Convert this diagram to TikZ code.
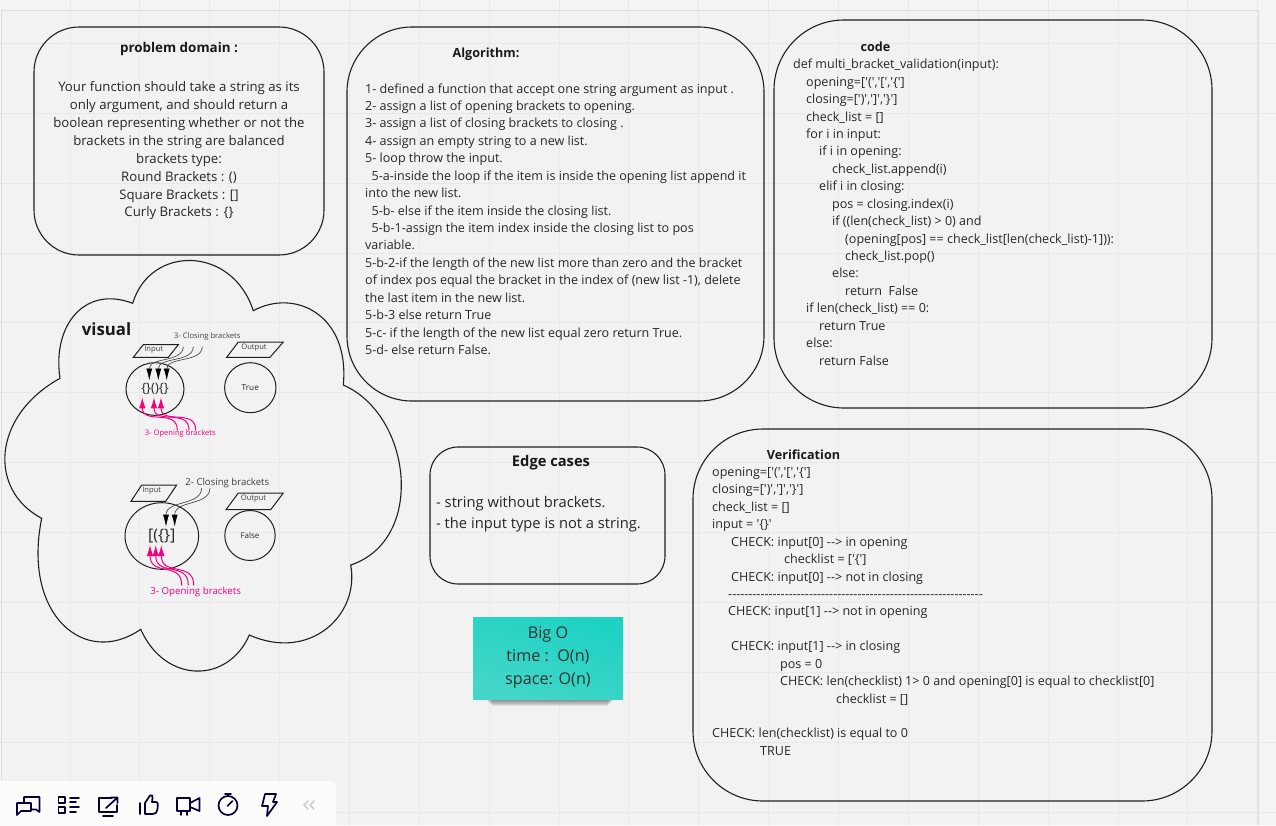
\documentclass[tikz,border=0pt]{standalone}
\usepackage{fontspec}
\setmainfont[Ligatures=TeXOff]{Open Sans}
\usetikzlibrary{arrows.meta,shapes.geometric}
\definecolor{outercol}{HTML}{F4F4F4}
\definecolor{boardbg}{HTML}{F2F2F2}
\definecolor{gridcol}{HTML}{E8E8E8}
\definecolor{inkcol}{HTML}{1F1F1F}
\definecolor{pinkcol}{HTML}{F5007F}
\definecolor{navycol}{HTML}{050038}
\definecolor{stickya}{HTML}{1DD2C2}
\definecolor{stickyb}{HTML}{44D6C9}
\tikzset{
	boxnode/.style={draw=inkcol, line width=1.1pt, inner sep=0pt},
	textnode/.style={anchor=north west, align=left, inner sep=0pt, text=black!85, font=\fontsize{12.55}{17.43}\selectfont},
	titlenode/.style={inner sep=0pt, text=black!90, font=\fontsize{12.6}{15}\selectfont\bfseries},
	tinynode/.style={inner sep=0pt, text=black!75, font=\fontsize{7.6}{9}\selectfont},
	ringnode/.style={draw=inkcol, line width=1pt, ellipse, inner sep=0pt},
	shapeline/.style={draw=inkcol, line width=1pt},
	closearrow/.style={draw=black!70, line width=0.7pt, -{Latex[length=12pt,width=6pt,black]}},
	openarrow/.style={draw=pinkcol, line width=1pt, -{Latex[length=11pt,width=6.5pt,pinkcol]}},
	iconline/.style={draw=navycol, line width=1.7pt, line join=round},
}
\begin{document}
\begin{tikzpicture}[x=1pt, y=-1pt, line cap=round]
	\useasboundingbox (0,0) rectangle (1276,825);
	% Board
	\fill[outercol] (0,0) rectangle (1276,825);
	\fill[boardbg] (2,11) rectangle (1258,825);
	\foreach \i in {1,...,18}
	{
		\draw[gridcol, line width=0.7pt] (69.87*\i,0) -- (69.87*\i,825);
	}
	\foreach \i in {0,...,11}
	{
		\draw[gridcol, line width=0.7pt] (0,43.3+69.87*\i) -- (1276,43.3+69.87*\i);
	}
	\draw[black!13, line width=1.5pt, line cap=butt] (1.5,825) -- (1.5,10.5) -- (1258.5,10.5) -- (1258.5,825);

	% Boxes
	\node[boxnode, rounded corners=45pt, minimum width=290pt, minimum height=228pt] (problembox) at (179,141) {};
	\node[boxnode, rounded corners=65pt, minimum width=417pt, minimum height=374pt] (algobox) at (555.5,214) {};
	\node[boxnode, rounded corners=70pt, minimum width=438pt, minimum height=388pt] (codebox) at (993,214) {};
	\node[boxnode, rounded corners=28pt, minimum width=235pt, minimum height=137pt] (edgebox) at (547.5,515.5) {};
	\node[boxnode, rounded corners=70pt, minimum width=519pt, minimum height=372pt] (verifybox) at (952.5,615) {};

	% Cloud
	\draw[draw=inkcol, line width=1.1pt] (60,378.3)
		.. controls (52,325) and (85,285) .. (132.7,303.3)
		.. controls (150,245) and (232,245) .. (253.3,310.7)
		.. controls (295,288) and (350,315) .. (343.3,385)
		.. controls (412,415) and (426,540) .. (350.7,565)
		.. controls (360,615) and (310,662) .. (249.3,635)
		.. controls (228,684) and (165,684) .. (140.7,629.3)
		.. controls (85,668) and (22,615) .. (41.7,518.3)
		.. controls (-12,490) and (-8,416) .. cycle;

	% Problem domain
	\node[titlenode, font=\fontsize{13.4}{16}\selectfont\bfseries] (problemtitle) at (179,49.5) {problem domain :};
	\node[textnode, anchor=north, align=center, font=\fontsize{13.2}{17.95}\selectfont] (problemtext) at (179,81)
		{Your function should take a string as its\\only argument, and should return a\\boolean representing whether or not the\\brackets in the string are balanced\\brackets type:\\Round Brackets : ()\\Square Brackets : []\\Curly Brackets : \{\}};

	% Algorithm
	\node[titlenode] (algotitle) at (486,54.5) {Algorithm:};
	\node[textnode] (algotext) at (365,83.3)
		{1- defined a function that accept one string argument as input .\\
		2- assign a list of opening brackets to opening.\\
		3- assign a list of closing brackets to closing .\\
		4- assign an empty string to a new list.\\
		5- loop throw the input.\\
		\hspace*{6.5pt}5-a-inside the loop if the item is inside the opening list append it\\
		into the new list.\\
		\hspace*{6.5pt}5-b- else if the item inside the closing list.\\
		\hspace*{6.5pt}5-b-1-assign the item index inside the closing list to pos\\
		variable.\\
		5-b-2-if the length of the new list more than zero and the bracket\\
		of index pos equal the bracket in the index of (new list -1), delete\\
		the last item in the new list.\\
		5-b-3 else return True\\
		5-c- if the length of the new list equal zero return True.\\
		5-d- else return False.};

	% Code
	\node[titlenode] (codetitle) at (875.5,47) {code};
	\node[textnode] (codetext) at (793,59)
		{def multi\_bracket\_validation(input):\\
		\hspace*{13pt}opening=['(','[','\{']\\
		\hspace*{13pt}closing=[')',']','\}']\\
		\hspace*{13pt}check\_list = []\\
		\hspace*{13pt}for i in input:\\
		\hspace*{26pt}if i in opening:\\
		\hspace*{39pt}check\_list.append(i)\\
		\hspace*{26pt}elif i in closing:\\
		\hspace*{39pt}pos = closing.index(i)\\
		\hspace*{39pt}if ((len(check\_list) > 0) and\\
		\hspace*{52pt}(opening[pos] == check\_list[len(check\_list)-1])):\\
		\hspace*{52pt}check\_list.pop()\\
		\hspace*{39pt}else:\\
		\hspace*{52pt}return\ \ False\\
		\hspace*{13pt}if len(check\_list) == 0:\\
		\hspace*{26pt}return True\\
		\hspace*{13pt}else:\\
		\hspace*{26pt}return False};

	% Edge cases
	\node[titlenode, font=\fontsize{14.7}{17}\selectfont\bfseries] (edgetitle) at (551,463) {Edge cases};
	\node[textnode, font=\fontsize{14.7}{21}\selectfont] (edgetext) at (436,496.5)
		{- string without brackets.\\- the input type is not a string.};

	% Verification
	\node[titlenode] (verifytitle) at (803.5,454.5) {Verification};
	\node[textnode] (verifytext) at (712,467)
		{opening=['(','[','\{']\\
		closing=[')',']','\}']\\
		check\_list = []\\
		input = '\{\}'\\
		\hspace*{19pt}CHECK: input[0] --> in opening\\
		\hspace*{72pt}checklist = ['\{']\\
		\hspace*{19pt}CHECK: input[0] --> not in closing\\
		\hspace*{16pt}---------------------------------------------------------------\\
		\hspace*{16pt}CHECK: input[1] --> not in opening\\
		\mbox{}\\
		\hspace*{19pt}CHECK: input[1] --> in closing\\
		\hspace*{68pt}pos = 0\\
		\hspace*{68pt}CHECK: len(checklist) 1> 0 and opening[0] is equal to checklist[0]\\
		\hspace*{124pt}checklist = []\\
		\mbox{}\\
		CHECK: len(checklist) is equal to 0\\
		\hspace*{48pt}TRUE};

	% Sticky note
	\foreach \k in {1,...,8}
	{
		\fill[black, opacity=0.08] (484+\k,697) rectangle (616-\k,698+\k);
	}
	\node[inner sep=0pt, minimum width=150pt, minimum height=82pt, top color=stickya, bottom color=stickyb, shading angle=-20] (stickybox) at (548,658) {};
	\node[inner sep=0pt, align=center, text=black!80, font=\fontsize{16.2}{23.2}\selectfont] (stickytext) at (548,657.5)
		{Big O\\time :\ \ O(n)\\space: O(n)};

	% Visual
	\node[inner sep=0pt, text=black!90, font=\fontsize{16.8}{20}\selectfont\bfseries] (visualtitle) at (106.5,329.5) {visual};

	% Top example
	\draw[shapeline] (133.3,357.3) -- (143.3,344.7) -- (178.3,344.7) -- (168.3,357.3) -- cycle;
	\node[tinynode] (inputa) at (153.7,350) {Input};
	\draw[shapeline] (226.7,357.3) -- (238.3,342) -- (283.3,342) -- (270,357.3) -- cycle;
	\node[tinynode] (outputa) at (254,347.3) {Output};
	\node[ringnode, minimum width=58pt, minimum height=52.6pt, font=\fontsize{13}{15}\selectfont, text=black!85] (ringa) at (155,389) {\{\}()\{\}};
	\node[ringnode, minimum width=51.4pt, minimum height=50pt, font=\fontsize{8.2}{10}\selectfont, text=black!85] (truering) at (250.3,387.7) {True};
	\node[tinynode] (closinga) at (207.3,336.3) {3- Closing brackets};
	\node[tinynode, text=pinkcol] (openinga) at (180.3,433.3) {3- Opening brackets};
	\foreach \n/\sx/\ex in {1/183.3/149.3, 2/193.3/158.3, 3/202.3/166.7}
	{
		\coordinate (closeas\n) at (\sx,347);
		\coordinate (closeae\n) at (\ex,380.5);
		\draw[closearrow] (closeas\n) .. controls +(-1,16) and +(0,-24) .. (closeae\n);
	}
	\foreach \n/\sx/\ex in {1/177.3/142.3, 2/189/154, 3/195.7/161}
	{
		\coordinate (openas\n) at (\sx,430);
		\coordinate (openae\n) at (\ex,397.3);
		\draw[openarrow] (openas\n) .. controls +(0,-22) and +(0,28) .. (openae\n);
	}

	% Bottom example
	\draw[shapeline] (131,501.3) -- (141.7,485) -- (176.7,485) -- (165.7,501.3) -- cycle;
	\node[tinynode] (inputb) at (151.7,490.3) {Input};
	\draw[shapeline] (226,509.7) -- (238.3,493) -- (283.3,493) -- (270.7,509.7) -- cycle;
	\node[tinynode] (outputb) at (253.5,498.7) {Output};
	\node[ringnode, minimum width=73.6pt, minimum height=66.6pt, font=\fontsize{16}{18}\selectfont, text=black!85] (ringb) at (161.8,536) {[(\{\}]};
	\node[ringnode, minimum width=50.4pt, minimum height=50pt, font=\fontsize{8}{10}\selectfont, text=black!85] (falsering) at (250,535.5) {False};
	\node[tinynode, font=\fontsize{9.6}{12}\selectfont] (closingb) at (227.3,483) {2- Closing brackets};
	\node[tinynode, text=pinkcol, font=\fontsize{9.7}{12}\selectfont] (openingb) at (195.7,592) {3- Opening brackets};
	\foreach \n/\sx/\ex in {1/201.7/166, 2/210/174.7}
	{
		\coordinate (closebs\n) at (\sx,488.3);
		\coordinate (closebe\n) at (\ex,526.7);
		\draw[closearrow] (closebs\n) .. controls +(-1,18) and +(0,-27) .. (closebe\n);
	}
	\foreach \n/\sx/\ex in {1/181.7/150, 2/188.3/155.7, 3/193.7/161.3}
	{
		\coordinate (openbs\n) at (\sx,585);
		\coordinate (openbe\n) at (\ex,545);
		\draw[openarrow] (openbs\n) .. controls +(0,-24) and +(0,32) .. (openbe\n);
	}

	% Toolbar
	\fill[white!70!outercol, rounded corners=4pt] (-8,781) rectangle (336,840);
	\draw[iconline] (17,815) -- (17,803) -- (31,803) -- (31,811) -- (21,811) -- cycle;
	\draw[iconline] (24,803) -- (24,797) -- (39.5,797) -- (39.5,812) -- (36,809.5) -- (31,809.5);
	\draw[iconline] (58.5,797) rectangle (65,803);
	\draw[iconline] (58.5,807) rectangle (65,813);
	\foreach \y/\w in {798/79, 802/76, 807/79, 812/76}
	{
		\draw[iconline] (70,\y) -- (\w,\y);
	}
	\draw[iconline] (112,798) -- (99,798) -- (99,812) -- (117,812) -- (117,805);
	\draw[iconline] (103,816) -- (113,816);
	\draw[iconline] (106,808) -- (117.5,797.5) (111,797.5) -- (117.5,797.5) -- (117.5,803);
	\draw[iconline] (140,803) -- (140,814);
	\draw[iconline] (145,814) -- (145,803) -- (150,795.5) .. controls (152,794) and (153,796) .. (152.5,798) -- (152,802) -- (156,802) .. controls (158.5,802) and (158,806) .. (157.5,809) .. controls (157,812) and (156,814) .. (153,814) -- cycle;
	\draw[iconline] (177,798) rectangle (190,811);
	\draw[iconline] (181,811) -- (181,815) (187,811) -- (187,815);
	\draw[iconline] (190,803) -- (199.5,798) -- (199.5,811) -- (190,807);
	\draw[iconline] (228,805.5) circle[radius=9.5];
	\draw[iconline] (225,794) -- (231,794) (228,794) -- (228,796);
	\draw[iconline] (227.5,806) -- (232.5,801);
	\draw[iconline] (265,794) -- (276,794) -- (273,802) -- (277,802) -- (267,816) -- (268,806) -- (262,806) -- cycle;
	\draw[iconline, draw=navycol!20] (308,801) -- (304,805) -- (308,809) (314,801) -- (310,805) -- (314,809);
\end{tikzpicture}
\end{document}
